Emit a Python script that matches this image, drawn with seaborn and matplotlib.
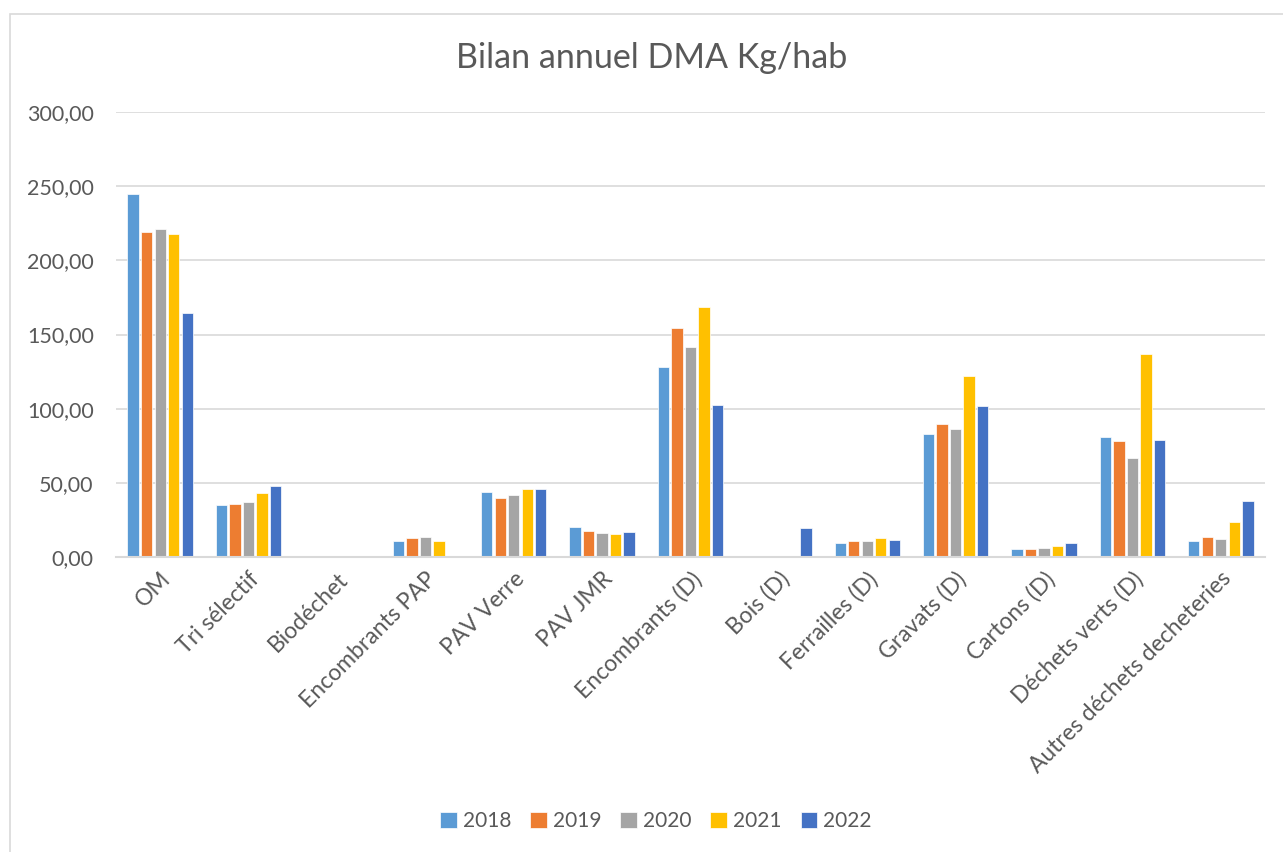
import numpy as np
import pandas as pd
import seaborn as sns
import matplotlib.pyplot as plt
from matplotlib.patches import Rectangle
from matplotlib.ticker import FuncFormatter

categories = ["OM", "Tri sélectif", "Biodéchet", "Encombrants PAP", "PAV Verre",
              "PAV JMR", "Encombrants (D)", "Bois (D)", "Ferrailles (D)", "Gravats (D)",
              "Cartons (D)", "Déchets verts (D)", "Autres déchets decheteries"]
years = ["2018", "2019", "2020", "2021", "2022"]

v2018 = [244.8, 35.1, np.nan, 11.0, 43.5, 20.0, 128.3, np.nan, 9.7, 82.9, 5.4, 81.1, 10.8]
v2019 = [219.3, 35.7, np.nan, 13.0, 40.0, 17.3, 154.2, np.nan, 10.8, 89.9, 5.4, 78.0, 13.7]
v2020 = [221.0, 36.9, 1.0, 13.2, 42.0, 16.0, 141.6, np.nan, 10.8, 86.1, 5.8, 67.0, 12.3]
v2021 = [218.0, 42.9, np.nan, 11.0, 45.6, 15.5, 168.6, np.nan, 13.0, 122.0, 7.4, 136.9, 23.4]
v2022 = [164.7, 47.9, np.nan, np.nan, 45.6, 16.7, 102.7, 19.8, 11.5, 102.0, 9.6, 78.9, 37.6]

colors = ["#5B9BD5", "#ED7D31", "#A5A5A5", "#FFC000", "#4472C4"]
text_color = "#595959"

rows = []
for year, vals in zip(years, [v2018, v2019, v2020, v2021, v2022]):
    for cat, v in zip(categories, vals):
        rows.append({"categorie": cat, "annee": year, "valeur": v})
df = pd.DataFrame(rows)

sns.set_style("white")
plt.rcParams["font.family"] = ["Lato", "DejaVu Sans"]

fig = plt.figure(figsize=(12.83, 8.52), dpi=100)
ax = fig.add_axes([116 / 1283, 1 - 557 / 852, (1265 - 116) / 1283, (557 - 112) / 852])

sns.barplot(data=df, x="categorie", y="valeur", hue="annee", order=categories,
            hue_order=years, palette=colors, saturation=1, width=0.765, gap=0.16,
            edgecolor="white", linewidth=0.5, ax=ax, legend=True)

ax.set_ylim(0, 300)
ax.set_yticks(np.arange(0, 301, 50))
ax.yaxis.set_major_formatter(FuncFormatter(lambda v, p: f"{v:.2f}".replace(".", ",")))
ax.set_xlim(-0.5, len(categories) - 0.5)
ax.grid(axis="y", color="#D9D9D9", linewidth=1.2)
ax.set_axisbelow(True)
for side in ["left", "right", "top"]:
    ax.spines[side].set_visible(False)
ax.spines["bottom"].set_color("#D9D9D9")
ax.spines["bottom"].set_linewidth(1.5)
ax.tick_params(axis="y", length=0, labelsize=15.5, labelcolor=text_color, pad=16)
ax.tick_params(axis="x", length=0, labelsize=16.5, labelcolor=text_color, pad=8)
plt.setp(ax.get_xticklabels(), rotation=45, ha="right", rotation_mode="anchor")
ax.set_xlabel("")
ax.set_ylabel("")

handles, labels = ax.get_legend_handles_labels()
ax.get_legend().remove()
fig.legend(handles, labels, loc="center", bbox_to_anchor=(656 / 1283, 1 - 821 / 852),
           ncol=5, frameon=False, fontsize=15, labelcolor=text_color,
           handlelength=0.8, handleheight=0.8, handletextpad=0.3, columnspacing=0.9)

fig.text(652 / 1283, 1 - 58 / 852, "Bilan annuel DMA Kg/hab", ha="center", va="center",
         fontsize=24.5, color=text_color)

fig.add_artist(Rectangle((9.5 / 1283, -0.1), 1.2, 1 - 13.5 / 852 + 0.1,
                         transform=fig.transFigure, fill=False,
                         edgecolor="#D9D9D9", linewidth=1.2))

fig.savefig("out.png", dpi=100)
